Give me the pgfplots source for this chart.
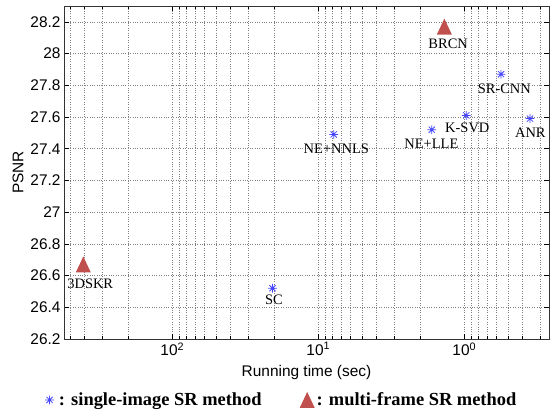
\documentclass[border=0pt]{standalone}
\usepackage{fontspec}
\setmainfont{Liberation Serif}
\setsansfont{Liberation Sans}
\usepackage{pgfplots}
\pgfplotsset{compat=1.18}
\definecolor{starblue}{RGB}{70,70,255}
\definecolor{trired}{RGB}{192,80,77}
\pgfdeclareplotmark{mstar}{%
  \pgfpathmoveto{\pgfqpoint{-\pgfplotmarksize}{0pt}}\pgfpathlineto{\pgfqpoint{\pgfplotmarksize}{0pt}}%
  \pgfpathmoveto{\pgfqpoint{0pt}{-\pgfplotmarksize}}\pgfpathlineto{\pgfqpoint{0pt}{\pgfplotmarksize}}%
  \pgfpathmoveto{\pgfqpoint{-0.707\pgfplotmarksize}{-0.707\pgfplotmarksize}}\pgfpathlineto{\pgfqpoint{0.707\pgfplotmarksize}{0.707\pgfplotmarksize}}%
  \pgfpathmoveto{\pgfqpoint{-0.707\pgfplotmarksize}{0.707\pgfplotmarksize}}\pgfpathlineto{\pgfqpoint{0.707\pgfplotmarksize}{-0.707\pgfplotmarksize}}%
  \pgfusepathqstroke}
\pgfdeclareplotmark{mtri}{%
  \pgfpathmoveto{\pgfqpoint{0pt}{\pgfplotmarksize}}%
  \pgfpathlineto{\pgfqpoint{0.94\pgfplotmarksize}{-\pgfplotmarksize}}%
  \pgfpathlineto{\pgfqpoint{-0.94\pgfplotmarksize}{-\pgfplotmarksize}}%
  \pgfpathclose\pgfusepathqfill}
\pgfplotstableread{
x y
20.6 26.52
7.85 27.49
1.67 27.52
0.97 27.61
0.355 27.59
0.56 27.87
}\single
\pgfplotstableread{
x y
407 26.67
1.37 28.17
}\multi
\begin{document}
\begin{tikzpicture}
\begin{axis}[
  name=ax,
  scale only axis,
  width=485bp, height=333bp,
  xmode=log, x dir=reverse,
  xmin=0.263, xmax=552,
  ymin=26.2, ymax=28.3,
  ytick={26.2,26.4,...,28.21},
  yticklabel style={/pgf/number format/fixed,/pgf/number format/precision=1},
  /pgf/number format/assume math mode=true,
  xticklabel={\pgfmathparse{int(round(\tick/2.302585093))}10\textsuperscript{\pgfmathresult}},
  tick label style={font=\sffamily\fontsize{15.5}{17}\selectfont},
  label style={font=\sffamily\fontsize{15.5}{17}\selectfont},
  xlabel={Running time (sec)},
  ylabel={PSNR},
  xlabel style={at={(axis description cs:0.5,-0.102)},anchor=center},
  ylabel style={at={(axis description cs:-0.0948,0.5)},anchor=center},
  grid=both,
  major grid style={dotted,line width=0.6bp,black!50},
  minor grid style={dotted,line width=0.6bp,black!50},
  tick align=inside,
  major tick length=5bp, minor tick length=3bp,
  every tick/.style={black,line width=0.5bp},
  axis line style={black!80,line width=0.6bp},
  legend style={draw=none,fill=none,at={(0.449,-0.183)},anchor=center,
    font=\bfseries\fontsize{18.5}{21}\selectfont,legend columns=2,
    /tikz/every even column/.append style={column sep=36bp}},
]
\addplot[only marks,mark=mstar,mark size=4.4bp,draw=starblue,line width=0.8bp] table[x=x,y=y]{\single};
\addlegendentry{\hspace{3bp}: single-image SR method}
\addplot[only marks,mark=mtri,mark size=8bp,fill=trired,draw=none] table[x=x,y=y]{\multi};
\addlegendentry{: multi-frame SR method}
\begin{scope}[every node/.style={font=\rmfamily\fontsize{14.5}{16}\selectfont,anchor=center,inner sep=0pt}]
\node at (axis cs:1.29,28.06) {BRCN};
\node at (axis cs:0.532,27.78) {SR-CNN};
\node at (axis cs:0.954,27.53) {K-SVD};
\node at (axis cs:1.68,27.43) {NE+LLE};
\node at (axis cs:0.353,27.50) {ANR};
\node at (axis cs:7.53,27.40) {NE+NNLS};
\node at (axis cs:365,26.55) {3DSKR};
\node at (axis cs:20.1,26.45) {SC};
\end{scope}
\end{axis}
\pgfresetboundingbox
\path ([shift={(-64bp,-72bp)}]ax.south west) rectangle ([shift={(4bp,6bp)}]ax.north east);
\end{tikzpicture}
\end{document}
